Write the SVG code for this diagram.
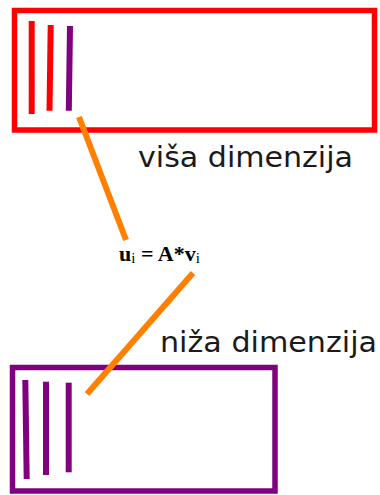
<svg xmlns="http://www.w3.org/2000/svg" width="380" height="495" viewBox="0 0 380 495">
<style>
.lbl{font-family:"DejaVu Sans",sans-serif;font-size:28px;fill:#1a1a1a}
.f{font-family:"Liberation Serif","Times New Roman",serif;font-weight:bold;font-size:22px;fill:#000}
.sub{font-size:15px;font-weight:normal}
.bar{stroke-width:6;fill:none}
.conn{stroke:#ff8000;stroke-width:6;fill:none}
</style>
<rect width="380" height="495" fill="#fff"/>
<g id="high">
<rect x="14.5" y="10.5" width="360" height="119.5" fill="none" stroke="#ff0000" stroke-width="5.5"/>
<line class="bar" x1="31.7" y1="21" x2="31.7" y2="114" stroke="#ff0000"/>
<line class="bar" x1="50.7" y1="25" x2="49.5" y2="110.7" stroke="#ff0000"/>
<line class="bar" x1="70" y1="26" x2="68.8" y2="110.7" stroke="#800080"/>
</g>
<g id="low">
<rect x="12.5" y="367.5" width="262.5" height="123.5" fill="none" stroke="#800080" stroke-width="5.5"/>
<line class="bar" x1="25.3" y1="380" x2="26.7" y2="479" stroke="#800080"/>
<line class="bar" x1="46" y1="381.7" x2="46" y2="475" stroke="#800080"/>
<line class="bar" x1="68.7" y1="382.7" x2="68.7" y2="472.3" stroke="#800080"/>
</g>
<g id="connectors">
<line class="conn" x1="79" y1="117" x2="126" y2="240"/>
<line class="conn" x1="193" y1="273" x2="87" y2="394"/>
</g>
<g id="labels">
<text class="lbl" x="138" y="166.7" textLength="215" lengthAdjust="spacingAndGlyphs">viša dimenzija</text>
<text class="lbl" x="160" y="351.7" textLength="217" lengthAdjust="spacingAndGlyphs">niža dimenzija</text>
<text class="f" x="119" y="261">u<tspan class="sub" dy="2">i</tspan><tspan dy="-2"> = A*v</tspan><tspan class="sub" dy="2">i</tspan></text>
</g>
</svg>
